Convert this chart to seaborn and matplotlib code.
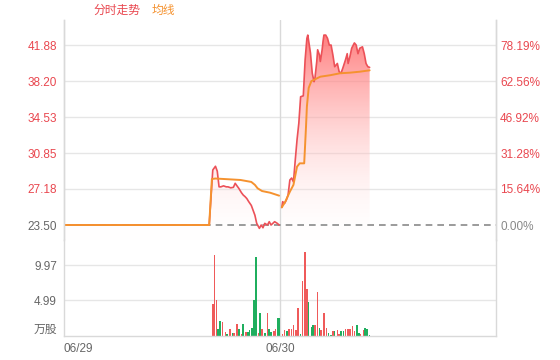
import numpy as np
import pandas as pd
import matplotlib
matplotlib.use("Agg")
import matplotlib.pyplot as plt
import seaborn as sns

# ---------------- data ----------------
day_labels = ["06/29", "06/30"]
day_start_minutes = [0, 241]
total_minutes = 482
prev_close = 23.50

price_ticks = [23.50, 27.18, 30.85, 34.53, 38.20, 41.88]
price_tick_labels = ["23.50", "27.18", "30.85", "34.53", "38.20", "41.88"]
pct_tick_labels = ["0.00%", "15.64%", "31.28%", "46.92%", "62.56%", "78.19%"]
vol_ticks = [0, 4.99, 9.97]
vol_tick_labels = ["万股", "4.99", "9.97"]

p1_min = [0, 162, 166, 169, 171, 173, 175, 178, 181, 183, 186, 189, 191, 193, 195, 198, 200,
          202, 204, 206, 209, 211, 213, 215, 218, 220, 222, 224, 227, 229, 231, 233, 235, 238, 240]
p1_val = [23.50, 23.50, 29.12, 29.5, 29.0, 27.4, 27.4, 27.5, 27.4, 27.4, 27.3, 27.35, 27.76, 27.5,
          27.25, 26.8, 26.56, 26.4, 26.2, 25.9, 25.5, 25.0, 24.5, 23.67, 23.16, 23.5, 23.22, 23.67,
          23.5, 23.84, 23.5, 23.67, 23.84, 23.67, 23.5]
p2_min = [243, 244, 246, 248, 250, 252, 254, 256, 258, 260, 262, 264, 267, 269, 271, 272, 275, 277,
          279, 280, 282, 283, 285, 286, 288, 289, 290, 292, 294, 296, 298, 300, 302, 305, 307, 309,
          311, 314, 316, 317, 319, 321, 324, 326, 328, 330, 333, 335, 337, 339, 341]
p2_val = [25.3, 25.88, 25.7, 26.05, 26.56, 28.1, 28.3, 27.9, 30.1, 32.2, 33.9, 36.6, 36.7, 40.35,
          42.57, 42.9, 41.07, 39.0, 38.14, 38.5, 40.2, 41.4, 40.87, 40.2, 41.4, 42.24, 42.9, 42.9,
          42.57, 41.88, 41.88, 40.87, 39.67, 40.0, 39.16, 39.0, 39.5, 40.35, 41.0, 40.0, 40.7, 41.56,
          42.1, 41.88, 41.0, 41.56, 41.7, 41.0, 40.0, 39.67, 39.6]

a1_min = [0, 162, 165, 169, 197, 209, 213, 216, 221, 230, 240]
a1_val = [23.5, 23.5, 28.2, 28.25, 28.1, 27.9, 27.6, 27.25, 26.97, 26.8, 26.5]
a2_min = [243, 247, 252, 256, 260, 263, 268, 270, 271, 273, 276, 286, 297, 308, 319, 330, 341]
a2_val = [25.3, 25.9, 26.9, 27.6, 29.46, 29.8, 29.8, 33.5, 35.6, 37.5, 38.2, 38.65, 38.8, 39.0,
          39.06, 39.16, 39.3]

vol_min = [166, 168, 170, 172, 174, 177, 180, 182, 185, 188, 190, 193, 195, 198, 200, 203, 205, 207,
           210, 212, 214, 217, 219, 221, 224, 227, 229, 231, 234, 236, 238, 240,
           244, 246, 249, 251, 254, 256, 259, 261, 264, 266, 269, 271, 273, 276, 278, 280, 283, 285,
           287, 290, 293, 295, 298, 300, 302, 305, 307, 309, 312, 314, 317, 319, 322, 324, 327, 329,
           331, 334, 336, 338, 341]
vol_val = [4.46, 11.4, 5.06, 0.94, 2.1, 1.9, 0.6, 0.25, 0.94, 0.4, 0.4, 1.64, 1.0, 0.25, 1.64, 0.5,
           0.5, 0.85, 1.08, 5.06, 11.06, 0.4, 3.28, 0.94, 0.4, 3.28, 0.94, 0.6, 0.75, 0.94, 2.58, 2.58,
           0.25, 0.85, 0.75, 0.94, 1.0, 1.55, 0.84, 3.98, 0.25, 7.7, 11.8, 6.56, 4.82, 1.31, 1.55, 1.55,
           6.23, 1.08, 0.84, 3.19, 1.08, 0.37, 0.14, 0.7, 0.7, 0.84, 0.23, 0.7, 0.7, 0.98, 0.98, 0.98,
           1.4, 0.7, 1.55, 0.37, 0.23, 0.84, 1.08, 0.94, 0.14]
vol_dir = ["r", "r", "r", "g", "g", "r", "r", "g", "r", "g", "r", "r", "g", "r", "g", "r", "g", "g",
           "g", "g", "g", "r", "g", "r", "g", "r", "g", "g", "r", "r", "g", "g",
           "r", "r", "g", "r", "r", "r", "r", "r", "g", "r", "r", "r", "g", "g", "g", "r", "r", "g",
           "r", "r", "r", "g", "g", "r", "g", "r", "r", "g", "g", "r", "r", "r", "r", "r", "g", "g",
           "r", "r", "g", "g", "g"]

# ---------------- style ----------------
sns.set_theme(style="white")
plt.rcParams["font.family"] = ["Liberation Sans", "Noto Sans CJK SC", "DejaVu Sans"]

RED = "#e9474f"
LINE_RED = "#ec5158"
ORANGE = "#f5922f"
GREEN = "#1fae5e"
BAR_RED = "#ef5a5a"
GRID = "#e6e6e6"
AXIS = "#d9d9d9"

W, H = 560, 360
fig = plt.figure(figsize=(W / 100, H / 100), dpi=100)
ax = fig.add_axes([64 / W, 1 - 240 / H, 432 / W, 220 / H])
axv = fig.add_axes([64 / W, 1 - 336 / H, 432 / W, 96 / H])

YMIN, YMAX = 21.97, 44.44
VMAX = 13.49

# grid lines
for t in price_ticks[1:]:
    ax.axhline(t, color=GRID, lw=1, zorder=0)
for t in vol_ticks[1:]:
    axv.axhline(t, color=GRID, lw=1, zorder=0)
ax.axvline(day_start_minutes[1], color=AXIS, lw=1, zorder=0)
axv.axvline(day_start_minutes[1], color=AXIS, lw=1, zorder=0)

# gradient fills
grad = np.zeros((256, 1, 4))
tvals = np.linspace(0, 1, 256)
grad[:, 0, 0] = 1.0
grad[:, 0, 1] = 0.36 + 0.64 * tvals
grad[:, 0, 2] = 0.36 + 0.64 * tvals
grad[:, 0, 3] = 0.9 - 0.8 * tvals

for mins, vals in [(p1_min, p1_val), (p2_min, p2_val)]:
    poly = ax.fill_between(mins, vals, YMIN, facecolor="none", edgecolor="none")
    img = ax.imshow(grad, extent=[mins[0], mins[-1], YMIN, YMAX], aspect="auto",
                    origin="upper", zorder=1, interpolation="bilinear")
    img.set_clip_path(poly.get_paths()[0], transform=ax.transData)

# dashed prev-close line
ax.axhline(prev_close, color="#8a8a8a", lw=1.2, ls=(0, (4, 3)), zorder=2)

# price & average lines
df_p = pd.concat([
    pd.DataFrame({"m": p1_min, "v": p1_val, "d": 0}),
    pd.DataFrame({"m": p2_min, "v": p2_val, "d": 1}),
])
df_a = pd.concat([
    pd.DataFrame({"m": a1_min, "v": a1_val, "d": 0}),
    pd.DataFrame({"m": a2_min, "v": a2_val, "d": 1}),
])
sns.lineplot(data=df_p, x="m", y="v", units="d", estimator=None, color=LINE_RED, lw=1.2,
             ax=ax, zorder=3, sort=False)
sns.lineplot(data=df_a, x="m", y="v", units="d", estimator=None, color=ORANGE, lw=1.4,
             ax=ax, zorder=4, sort=False)

ax.set_xlim(0, total_minutes)
ax.set_ylim(YMIN, YMAX)
ax.set_xlabel("")
ax.set_ylabel("")
ax.set_xticks([])
ax.set_yticks(price_ticks)
ax.set_yticklabels(price_tick_labels)
for lbl, t in zip(ax.get_yticklabels(), price_ticks):
    lbl.set_color("#666666" if t == prev_close else RED)
ax.tick_params(axis="y", length=0, pad=5, labelsize=8.5)

ax2 = ax.twinx()
ax2.set_ylim(YMIN, YMAX)
ax2.set_yticks(price_ticks)
ax2.set_yticklabels(pct_tick_labels)
for lbl, t in zip(ax2.get_yticklabels(), price_ticks):
    lbl.set_color("#888888" if t == prev_close else RED)
ax2.tick_params(axis="y", length=0, pad=3, labelsize=8.5)

for a in (ax, ax2):
    for s in ("top", "bottom"):
        a.spines[s].set_visible(False)
    for s in ("left", "right"):
        a.spines[s].set_color(AXIS)
        a.spines[s].set_linewidth(1)

# volume bars
bar_colors = [BAR_RED if d == "r" else GREEN for d in vol_dir]
axv.bar(vol_min, vol_val, width=1.8, color=bar_colors, linewidth=0, zorder=2)
axv.set_xlim(0, total_minutes)
axv.set_ylim(0, VMAX)
axv.set_yticks(vol_ticks)
axv.set_yticklabels(vol_tick_labels, color="#666666")
axv.get_yticklabels()[0].set_va("bottom")
axv.tick_params(axis="y", length=0, pad=5, labelsize=8.5)
axv.set_xticks(day_start_minutes)
axv.set_xticklabels(day_labels, color="#666666")
axv.tick_params(axis="x", length=0, pad=5, labelsize=8.5)
xl = axv.get_xticklabels()
xl[0].set_ha("left")
xl[1].set_ha("center")
axv.spines["top"].set_visible(False)
for s in ("left", "right", "bottom"):
    axv.spines[s].set_color(AXIS)
    axv.spines[s].set_linewidth(1)

# legend texts
fig.text(93 / W, 1 - 10 / H, "分时走势", color=RED, fontsize=8.5, va="center", ha="left",
         family=["Noto Sans CJK SC", "DejaVu Sans"])
fig.text(152 / W, 1 - 10 / H, "均线", color=ORANGE, fontsize=8.5, va="center", ha="left",
         family=["Noto Sans CJK SC", "DejaVu Sans"])

fig.savefig("out.png", dpi=100)
